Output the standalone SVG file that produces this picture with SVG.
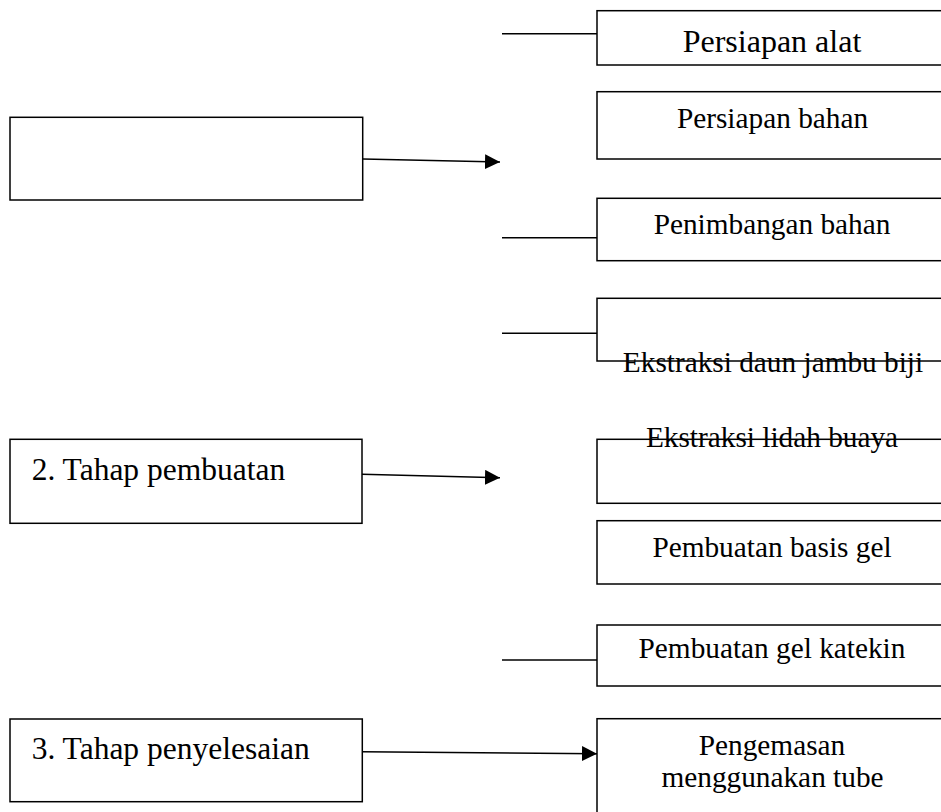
<svg xmlns="http://www.w3.org/2000/svg" width="941" height="812" viewBox="0 0 941 812">
<style>
.box{fill:#fff;stroke:#000;stroke-width:1.5}
.ln{fill:none;stroke:#000;stroke-width:1.5}
.t{font-family:"Liberation Serif","Times New Roman",serif;fill:#000;font-size:29.3px;text-anchor:middle}
.tl{font-family:"Liberation Serif","Times New Roman",serif;fill:#000;font-size:31.5px}
</style>
<defs>
<marker id="ah" markerUnits="userSpaceOnUse" markerWidth="16" markerHeight="16" refX="15" refY="7.5" orient="auto">
<path d="M0,0 L15,7.5 L0,15 z" fill="#000"/>
</marker>
</defs>
<rect width="941" height="812" fill="#fff"/>
<g id="stage1"><rect class="box" x="10" y="117.3" width="352.7" height="82.7"/></g>
<g id="stage2"><rect class="box" x="10" y="439.3" width="352" height="84"/><text class="tl" x="31.7" y="480">2. Tahap pembuatan</text></g>
<g id="stage3"><rect class="box" x="10" y="719" width="352.3" height="82.7"/><text class="tl" x="31.7" y="759.3">3. Tahap penyelesaian</text></g>
<g id="persiapan-alat"><rect class="box" x="597" y="10.7" width="360" height="54.3"/><text class="t" x="772" y="52" style="font-size:32px">Persiapan alat</text></g>
<g id="persiapan-bahan"><rect class="box" x="597" y="91.7" width="360" height="67.3"/><text class="t" x="772.5" y="128">Persiapan bahan</text></g>
<g id="penimbangan-bahan"><rect class="box" x="597" y="198.3" width="360" height="62.4"/><text class="t" x="772" y="234.3">Penimbangan bahan</text></g>
<g id="ekstraksi-daun"><rect class="box" x="597" y="298.3" width="360" height="62.7"/><text class="t" x="773" y="372">Ekstraksi daun jambu biji</text></g>
<g id="ekstraksi-lidah"><rect class="box" x="597" y="439.3" width="360" height="64"/><text class="t" x="772" y="446.7">Ekstraksi lidah buaya</text></g>
<g id="basis-gel"><rect class="box" x="597" y="520.7" width="360" height="63.3"/><text class="t" x="772" y="556.7">Pembuatan basis gel</text></g>
<g id="gel-katekin"><rect class="box" x="597" y="625" width="360" height="61"/><text class="t" x="772" y="658.3">Pembuatan gel katekin</text></g>
<g id="pengemasan"><rect class="box" x="597" y="718.7" width="360" height="120"/><text class="t" x="772" y="755">Pengemasan</text><text class="t" x="772.5" y="786.7">menggunakan tube</text></g>
<g id="connectors">
<line class="ln" x1="502" y1="33.7" x2="597" y2="33.7"/>
<line class="ln" x1="502" y1="237.7" x2="597" y2="237.7"/>
<line class="ln" x1="502" y1="333.3" x2="597" y2="333.3"/>
<line class="ln" x1="502" y1="660" x2="597" y2="660"/>
<line class="ln" x1="363" y1="159" x2="500" y2="162" marker-end="url(#ah)"/>
<line class="ln" x1="362" y1="474.3" x2="500" y2="477.7" marker-end="url(#ah)"/>
<line class="ln" x1="362" y1="751.7" x2="597" y2="753.7" marker-end="url(#ah)"/>
</g>
</svg>
